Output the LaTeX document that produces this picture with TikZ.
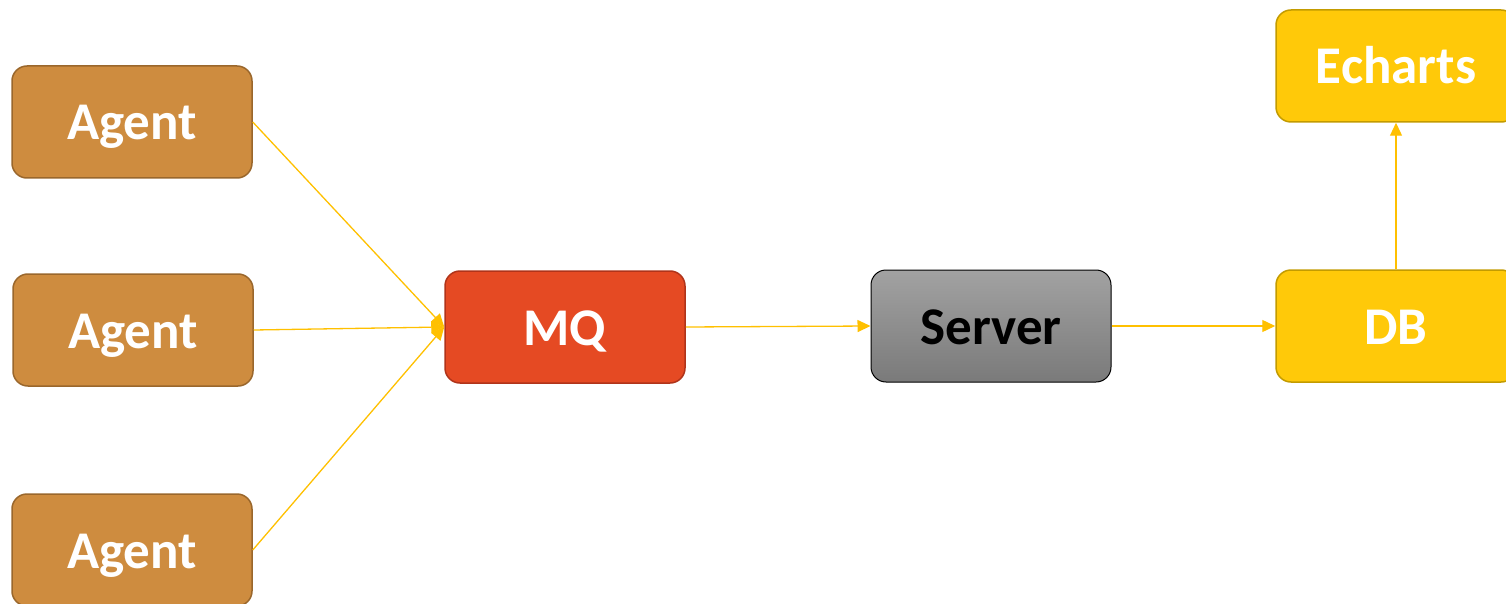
\documentclass[tikz,border=0pt]{standalone}
\usepackage{fontspec}
\setmainfont{Carlito}
\usetikzlibrary{arrows.meta}
\definecolor{agentfill}{HTML}{CE8C3F}
\definecolor{agentline}{HTML}{9A672C}
\definecolor{mqfill}{HTML}{E54A23}
\definecolor{mqline}{HTML}{B0341A}
\definecolor{yfill}{HTML}{FFC909}
\definecolor{yline}{HTML}{C39B00}
\definecolor{arrowc}{HTML}{FFC000}
\definecolor{srvtop}{HTML}{A2A2A2}
\definecolor{srvbot}{HTML}{7A7A7A}
\tikzset{
  box/.style={rounded corners=15pt, minimum width=240pt, minimum height=112pt,
    inner sep=0pt, line width=1.5pt, font=\fontsize{53}{56}\selectfont\bfseries, text=white,
    text height=42pt, text depth=6pt},
  agentbox/.style={box, fill=agentfill, draw=agentline},
  mqbox/.style={box, fill=mqfill, draw=mqline},
  srvbox/.style={box, top color=srvtop, bottom color=srvbot, draw=black, line width=1pt, text=black},
  ybox/.style={box, fill=yfill, draw=yline},
  conn/.style={draw=arrowc, line width=1.3pt, -{Triangle[length=13pt,width=12pt]}}
}
\begin{document}
\begin{tikzpicture}[x=1pt,y=-1pt]
\useasboundingbox (0,0) rectangle (1506,604);
\node[agentbox] (a1) at (132,122) {Agent};
\node[agentbox] (a2) at (133,330) {Agent};
\node[agentbox] (a3) at (132,550) {Agent};
\node[mqbox] (mq) at (565,327) {MQ};
\node[srvbox] (srv) at (991,326) {Server};
\node[ybox] (db) at (1396,326) {DB};
\node[ybox] (ec) at (1396,66) {Echarts};
\draw[conn] (a1.east) -- (mq.west);
\draw[conn] (a2.east) -- (mq.west);
\draw[conn] (a3.east) -- (mq.west);
\draw[conn] (mq.east) -- (srv.west);
\draw[conn] (srv.east) -- (db.west);
\draw[conn] (db.north) -- (ec.south);
\end{tikzpicture}
\end{document}
